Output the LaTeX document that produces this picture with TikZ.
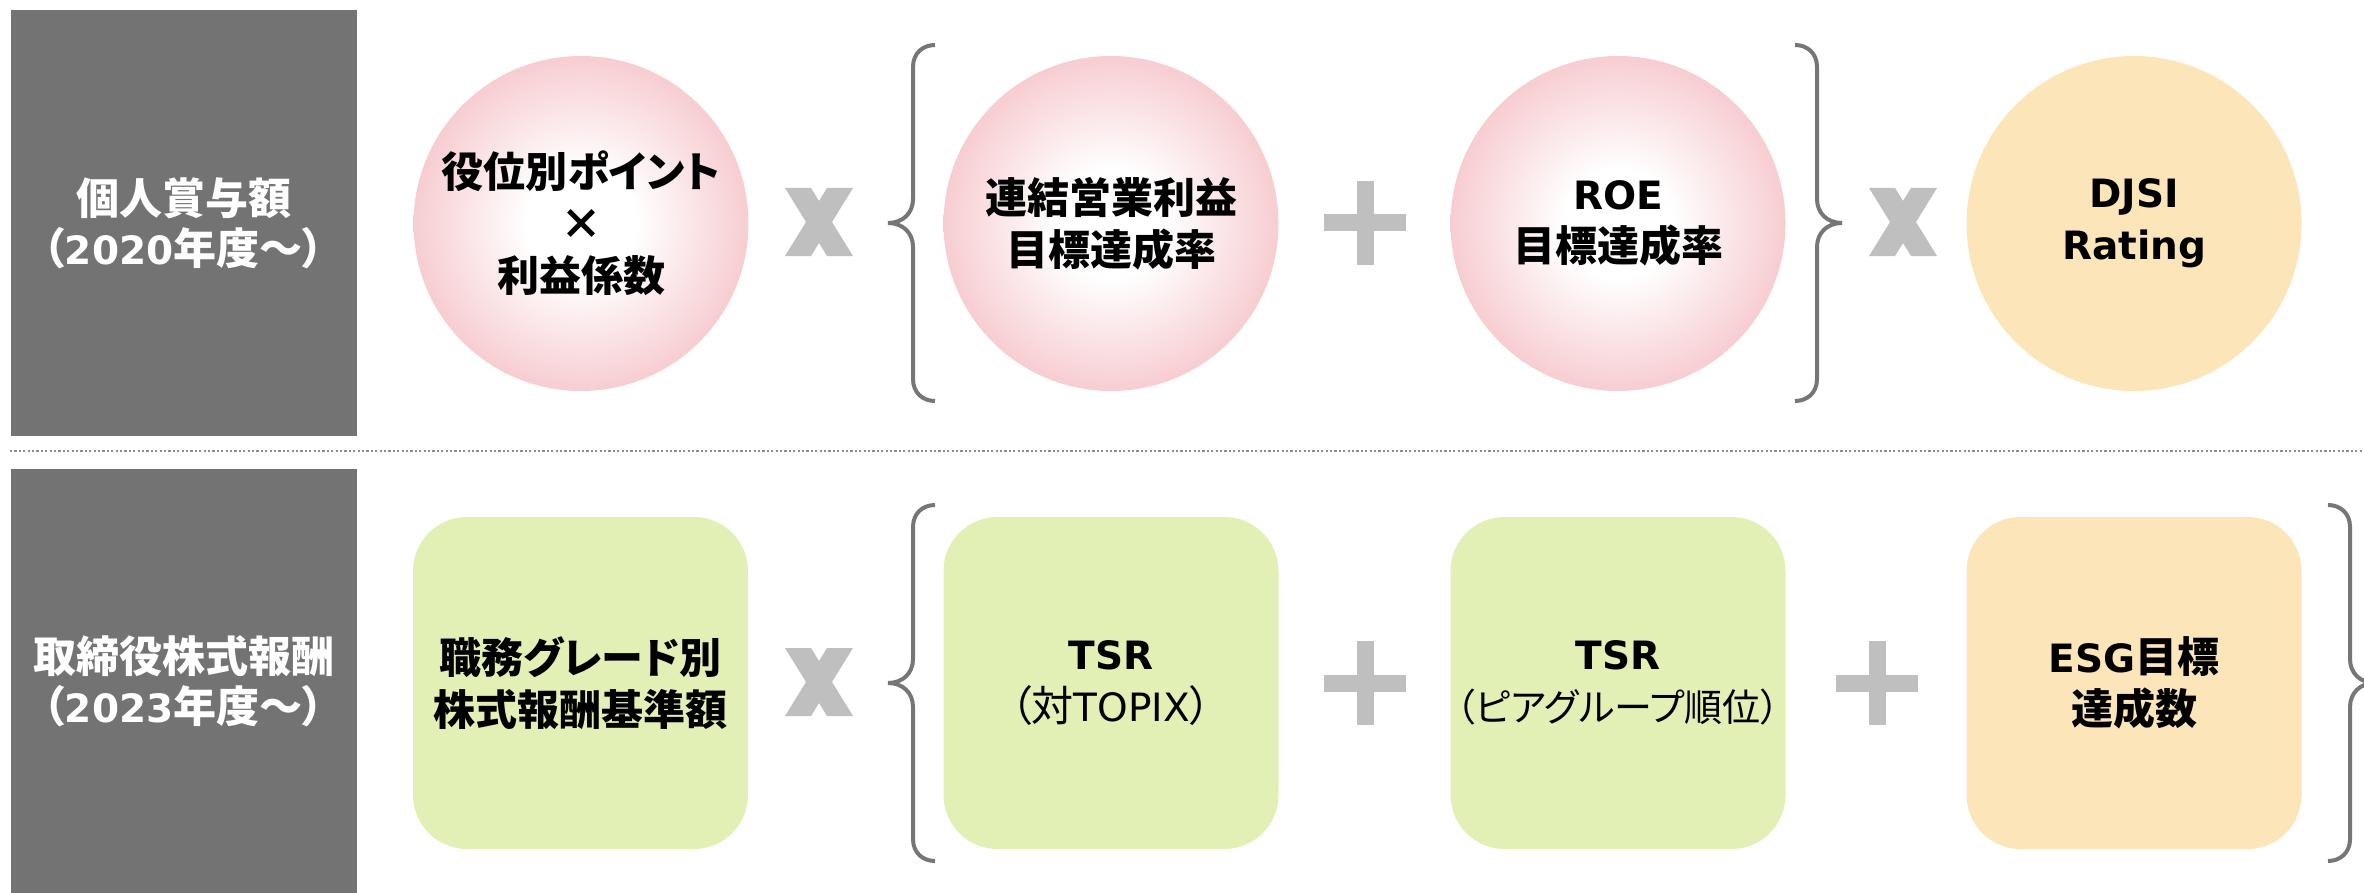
\documentclass[tikz,border=0pt]{standalone}
\usepackage{fontspec}
\setmainfont{Noto Sans CJK JP}[RawFeature=+palt]
\newfontfamily\dvfont{DejaVu Sans}
\newcommand{\lw}[1]{{\dvfont\fontsize{19.5pt}{\the\baselineskip}\selectfont #1}}
\definecolor{greybox}{RGB}{115,115,115}
\definecolor{pinkedge}{RGB}{247,205,209}
\definecolor{goldfill}{RGB}{252,229,184}
\definecolor{tilegreen}{RGB}{226,239,181}
\definecolor{signgrey}{RGB}{191,191,191}
\definecolor{bracegrey}{RGB}{118,118,118}
\definecolor{dotgrey}{RGB}{140,140,140}
\pgfdeclareradialshading{pinkball}{\pgfpoint{0bp}{0bp}}{color(0bp)=(white); color(8bp)=(white); color(25bp)=(pinkedge); color(50bp)=(pinkedge)}
\tikzset{
  txt/.style={font=\bfseries\fontsize{21pt}{26pt}\selectfont, align=center, text=black},
  rowlabel/.style={fill=greybox, text=white, font=\bfseries\fontsize{21.5pt}{25pt}\selectfont, align=center, minimum width=173.25pt, inner sep=0pt},
  ball/.style={circle, minimum size=167.5pt, inner sep=0pt, txt},
  pinkball/.style={ball, shading=pinkball},
  goldball/.style={ball, fill=goldfill},
  tile/.style={rectangle, rounded corners=27pt, minimum width=167.5pt, minimum height=166pt, inner sep=0pt, txt},
  greentile/.style={tile, fill=tilegreen},
  goldtile/.style={tile, fill=goldfill},
  bracepath/.style={draw=bracegrey, line width=2pt},
  timesmark/.pic={
    \fill[signgrey] (-34,-34) -- (-8,-34) -- (34,34) -- (8,34) -- cycle;
    \fill[signgrey] (34,-34) -- (8,-34) -- (-34,34) -- (-8,34) -- cycle;
  },
  plusmark/.pic={
    \fill[signgrey] (-8.5,-42) rectangle (8.5,42);
    \fill[signgrey] (-41,-8.5) rectangle (41,8.5);
  },
  lbrace/.pic={
    \draw[bracepath] (22,-178) .. controls (10,-178) and (0,-170) .. (0,-156) -- (0,-24) .. controls (0,-10) and (-10,0) .. (-25,0) .. controls (-10,0) and (0,10) .. (0,24) -- (0,156) .. controls (0,170) and (10,178) .. (22,178);
  }
}
\begin{document}
\begin{tikzpicture}[x=0.5pt,y=-0.5pt]
\useasboundingbox (0,0) rectangle (2364,893);
\clip (0,0) rectangle (2364,893);

% row labels
\node[rowlabel, minimum height=212.75pt] (lab1) at (183.75,223.25) {個人賞与額\\（\lw{2020}年度～）};
\node[rowlabel, minimum height=212pt] (lab2) at (183.75,681) {取締役株式報酬\\（\lw{2023}年度～）};

% separator
\draw[dotgrey, line width=1.2pt, dash pattern=on 1.1pt off 1.1pt] (10,451) -- (2364,451);

% top row
\node[pinkball] (c1) at (581,223.5) {役位別ポイント\\×\\利益係数};
\pic at (819,222) {timesmark};
\pic at (913,223) {lbrace};
\node[pinkball] (c2) at (1111,223.5) {連結営業利益\\目標達成率};
\pic at (1365,223) {plusmark};
\node[pinkball] (c3) at (1618,223.5) {\lw{ROE}\\目標達成率};
\pic[xscale=-1] at (1817,223) {lbrace};
\pic at (1903,222) {timesmark};
\node[goldball] (c4) at (2134,223.5) {\lw{DJSI}\\\lw{Rating}};

% bottom row
\node[greentile] (b1) at (580.5,683) {職務グレード別\\株式報酬基準額};
\pic at (819,682) {timesmark};
\pic at (913,683) {lbrace};
\node[greentile] (b2) at (1111,683) {\lw{TSR}\\{\mdseries （対\lw{TOPIX}）}};
\pic at (1365,683) {plusmark};
\node[greentile] (b3) at (1618,683) {\lw{TSR}\\\makebox[150pt]{\mdseries\fontsize{19pt}{26pt}\selectfont （ピアグループ順位）}};
\pic at (1877,683) {plusmark};
\node[goldtile] (b4) at (2134,683) {\lw{ESG}目標\\達成数};
\pic[xscale=-1] at (2350,683) {lbrace};
\end{tikzpicture}
\end{document}
